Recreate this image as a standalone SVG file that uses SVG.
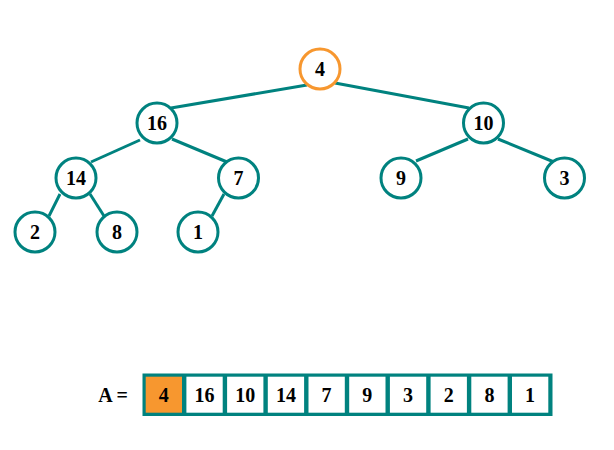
<svg xmlns="http://www.w3.org/2000/svg" width="614" height="450" viewBox="0 0 614 450">
<style>
.e{stroke:#00827f;stroke-width:3;fill:none}
.n{fill:#fff;stroke:#00827f;stroke-width:3}
.r{fill:#fff;stroke:#f7972f;stroke-width:3}
.t{font-family:"Liberation Serif","Times New Roman",serif;font-weight:bold;font-size:20px;text-anchor:middle;fill:#000}
.c{fill:#fff}
</style>
<rect width="614" height="450" fill="#fff"/>
<g id="connectors">
<line class="e" x1="307" y1="85" x2="171" y2="108"/>
<line class="e" x1="335" y1="83" x2="469" y2="108"/>
<line class="e" x1="140" y1="140" x2="91" y2="162"/>
<line class="e" x1="172" y1="139" x2="227" y2="162"/>
<line class="e" x1="468" y1="139" x2="416" y2="161"/>
<line class="e" x1="498" y1="139" x2="554" y2="162"/>
<line class="e" x1="60" y1="194" x2="49" y2="216"/>
<line class="e" x1="90" y1="194" x2="104" y2="216"/>
<line class="e" x1="224" y1="194" x2="212" y2="216"/>
</g>
<g id="n4"><circle class="r" cx="320" cy="69" r="20"/><text class="t" x="320" y="75.5">4</text></g>
<g id="n16"><circle class="n" cx="157" cy="123" r="20"/><text class="t" x="157" y="129.5">16</text></g>
<g id="n10"><circle class="n" cx="483.5" cy="123" r="20"/><text class="t" x="483.5" y="129.5">10</text></g>
<g id="n14"><circle class="n" cx="76" cy="178" r="20"/><text class="t" x="76" y="184.5">14</text></g>
<g id="n7"><circle class="n" cx="238.5" cy="178" r="20"/><text class="t" x="238.5" y="184.5">7</text></g>
<g id="n9"><circle class="n" cx="401" cy="178" r="20"/><text class="t" x="401" y="184.5">9</text></g>
<g id="n3"><circle class="n" cx="564.5" cy="178" r="20"/><text class="t" x="564.5" y="184.5">3</text></g>
<g id="n2"><circle class="n" cx="35" cy="232" r="20"/><text class="t" x="35" y="238.5">2</text></g>
<g id="n8"><circle class="n" cx="117" cy="232" r="20"/><text class="t" x="117" y="238.5">8</text></g>
<g id="n1"><circle class="n" cx="198" cy="232" r="20"/><text class="t" x="198" y="238.5">1</text></g>
<g id="array">
<text class="t" x="113" y="402">A =</text>
<rect x="142.5" y="373.5" width="410" height="42.5" fill="#00827f"/>
<rect x="145.7" y="376.7" width="36.3" height="36" fill="#f7972f"/>
<rect class="c" x="186.4" y="376.7" width="36.3" height="36"/>
<rect class="c" x="227.1" y="376.7" width="36.3" height="36"/>
<rect class="c" x="267.8" y="376.7" width="36.3" height="36"/>
<rect class="c" x="308.5" y="376.7" width="36.3" height="36"/>
<rect class="c" x="349.2" y="376.7" width="36.3" height="36"/>
<rect class="c" x="389.9" y="376.7" width="36.3" height="36"/>
<rect class="c" x="430.6" y="376.7" width="36.3" height="36"/>
<rect class="c" x="471.3" y="376.7" width="36.3" height="36"/>
<rect class="c" x="512" y="376.7" width="36.3" height="36"/>
<text class="t" x="163.8" y="402">4</text>
<text class="t" x="204.5" y="402">16</text>
<text class="t" x="245.2" y="402">10</text>
<text class="t" x="285.9" y="402">14</text>
<text class="t" x="326.6" y="402">7</text>
<text class="t" x="367.3" y="402">9</text>
<text class="t" x="408" y="402">3</text>
<text class="t" x="448.7" y="402">2</text>
<text class="t" x="489.4" y="402">8</text>
<text class="t" x="530.1" y="402">1</text>
</g>
</svg>
